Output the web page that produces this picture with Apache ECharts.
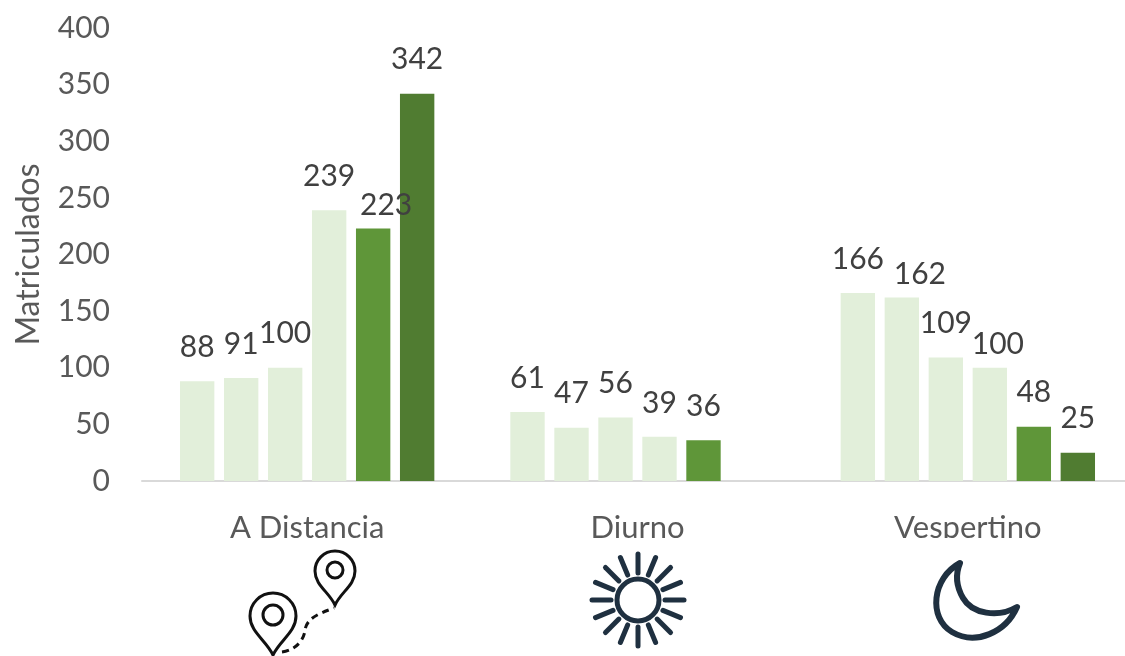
<!DOCTYPE html>
<html><head><meta charset="utf-8">
<style>html,body{margin:0;padding:0;background:#fff}#c{width:1125px;height:656px;overflow:hidden}</style>
<script src="https://cdn.jsdelivr.net/npm/echarts@6/dist/echarts.min.js"></script>
</head><body><div id="c"></div>
<script>
const categories = ['A Distancia', 'Diurno', 'Vespertino'];
const serie1 = [88, 61, 166];
const serie2 = [91, 47, 162];
const serie3 = [100, 56, 109];
const serie4 = [239, 39, 100];
const serie5 = [223, 36, 48];
const serie6 = [342, null, 25];
const allSeries = [serie1, serie2, serie3, serie4, serie5, serie6];
const seriesColors = ['#E2EFDA', '#E2EFDA', '#E2EFDA', '#E2EFDA', '#5F9639', '#507C31'];
// hand-placed label nudges from the reference: "seriesIndex,categoryIndex": [dx, dy]
const labelNudges = {'4,0': [13, 11], '1,2': [18, 11], '3,2': [8, 11]};

const FONT = 'Lato, "Open Sans", sans-serif';
const series = allSeries.map((vals, si) => ({
  type: 'bar', name: 'Serie ' + (si + 1),
  barGap: '28%', barCategoryGap: '23%',
  itemStyle: {color: seriesColors[si]},
  data: vals.map((v, ci) => {
    const n = labelNudges[si + ',' + ci];
    return n ? {value: v, label: {offset: n}} : v;
  }),
  label: {show: true, position: 'top', distance: 19, fontFamily: FONT, fontSize: 30, color: '#404040'}
}));

const gfx = [{type: 'rect', shape: {x: 0, y: 538, width: 1125, height: 118}, style: {fill: '#fff'}}];
const pinPath = (x, y, r, h) => `M${x} ${y + h}C${x - r * .3} ${y + h * .62} ${x - r} ${y + r * .7} ${x - r} ${y}A${r} ${r} 0 1 1 ${x + r} ${y}C${x + r} ${y + r * .7} ${x + r * .3} ${y + h * .62} ${x} ${y + h}Z`;
const ink = {fill: 'none', stroke: '#111', lineWidth: 3};
gfx.push({type: 'path', shape: {pathData: pinPath(335, 571, 20, 34)}, style: ink});
gfx.push({type: 'circle', shape: {cx: 335, cy: 570, r: 8}, style: ink});
gfx.push({type: 'path', shape: {pathData: pinPath(273, 616, 23, 39)}, style: ink});
gfx.push({type: 'circle', shape: {cx: 273, cy: 615, r: 10}, style: ink});
gfx.push({type: 'path', shape: {pathData: 'M282 652C296 650 304 640 305 630C307 618 318 614 334 608'}, style: {fill: 'none', stroke: '#111', lineWidth: 3, lineDash: [7, 5]}});
const sunC = [638, 600], navy = '#1F3040';
gfx.push({type: 'circle', shape: {cx: sunC[0], cy: sunC[1], r: 21}, style: {fill: 'none', stroke: navy, lineWidth: 5}});
for (let i = 0; i < 16; i++) {
  const a = i * Math.PI / 8, c = Math.cos(a), s = Math.sin(a);
  gfx.push({type: 'line', shape: {x1: sunC[0] + 27 * c, y1: sunC[1] + 27 * s, x2: sunC[0] + 46 * c, y2: sunC[1] + 46 * s},
    style: {stroke: navy, lineWidth: 5, lineCap: 'round'}});
}
gfx.push({type: 'path', shape: {pathData: 'M960 563C932 578 928 618 952 632C976 646 1006 632 1017 607C998 618 972 614 963 598C956 586 955 575 960 563Z'},
  style: {fill: 'none', stroke: navy, lineWidth: 6, lineJoin: 'round'}});

series.push({type: 'custom', coordinateSystem: 'none', z: 60, silent: true, data: [0],
  renderItem: () => ({type: 'group', children: gfx})});

const chart = echarts.init(document.getElementById('c'), null, {renderer: 'canvas'});
chart.setOption({
  animation: false,
  backgroundColor: '#fff',
  grid: {left: 142, top: 28, width: 991, height: 453, containLabel: false, outerBoundsMode: 'none'},
  xAxis: {type: 'category', data: categories,
    axisLine: {lineStyle: {color: '#D9D9D9', width: 2}}, axisTick: {show: false},
    axisLabel: {fontFamily: FONT, fontSize: 31, color: '#595959', margin: 31}},
  yAxis: {type: 'value', min: 0, max: 400, interval: 50,
    name: 'Matriculados', nameLocation: 'middle', nameGap: 97, nameRotate: 90,
    nameTextStyle: {fontFamily: FONT, fontSize: 32, color: '#595959'},
    axisLine: {show: false}, axisTick: {show: false}, splitLine: {show: false},
    axisLabel: {fontFamily: FONT, fontSize: 30, color: '#595959', margin: 32}},
  series
});
</script></body></html>
